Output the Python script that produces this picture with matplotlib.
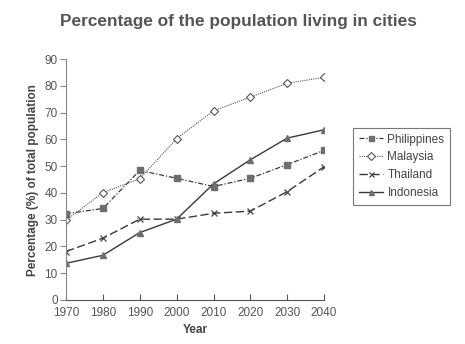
import matplotlib
matplotlib.use('Agg')
import matplotlib.pyplot as plt

plt.rcParams['font.family'] = ['Liberation Sans', 'DejaVu Sans']

years = [1970, 1980, 1990, 2000, 2010, 2020, 2030, 2040]
philippines = [32.2, 34.2, 48.4, 45.5, 42.4, 45.5, 50.6, 55.9]
malaysia = [29.8, 40.1, 45.3, 60.3, 70.7, 75.8, 81.0, 83.2]
thailand = [18.1, 23.1, 30.2, 30.2, 32.4, 33.2, 40.5, 49.8]
indonesia = [13.7, 16.7, 25.2, 30.2, 43.4, 52.4, 60.5, 63.6]

fig = plt.figure(figsize=(4.65, 3.44), dpi=100)
ax = fig.add_axes([0.142, 0.128, 0.555, 0.7])

line_col = '#3a3a3a'
mark_col = '#6e6e6e'
ax.plot(years, philippines, color=line_col, lw=0.9, ls=(0, (4, 1.5, 1, 1.5)),
        marker='s', ms=4.5, mfc=mark_col, mec=mark_col, label='Philippines')
ax.plot(years, malaysia, color='#555555', lw=0.8, ls=(0, (1, 1)),
        marker='D', ms=4.5, mfc='white', mec='#555555', mew=0.8, label='Malaysia')
ax.plot(years, thailand, color=line_col, lw=1.0, ls=(0, (6, 2.5)),
        marker='x', ms=4.5, mec='#444444', mew=0.9, label='Thailand')
ax.plot(years, indonesia, color=line_col, lw=1.0, ls='-',
        marker='^', ms=4.5, mfc=mark_col, mec=mark_col, label='Indonesia')

ax.set_xlim(1970, 2040)
ax.set_ylim(0, 90)
ax.set_xticks(years)
ax.set_yticks(range(0, 91, 10))
for s in ['top', 'right']:
    ax.spines[s].set_visible(False)
ax.spines['left'].set_color('#888888')
ax.spines['bottom'].set_color('#555555')
ax.tick_params(axis='y', direction='out', length=4, colors='#888888',
               labelcolor='#555555', labelsize=8.5, pad=2)
ax.tick_params(axis='x', direction='in', length=4, colors='#555555',
               labelcolor='#555555', labelsize=8.5, pad=5)
ax.set_xlabel('Year', fontsize=8.5, fontweight='bold', color='#444444', labelpad=4)
ax.set_ylabel('Percentage (%) of total population', fontsize=8.5,
              fontweight='bold', color='#444444', labelpad=4)

fig.suptitle('Percentage of the population living in cities', x=0.512, y=0.96,
             fontsize=12.4, fontweight='bold', color='#555555')

leg = ax.legend(loc='upper left', bbox_to_anchor=(1.09, 0.74), fontsize=8.5,
                handlelength=2.0, handletextpad=0.4, labelspacing=0.5,
                borderpad=0.5, frameon=True, fancybox=False, markerscale=0.8)
leg.get_frame().set_edgecolor('#555555')
leg.get_frame().set_linewidth(0.8)
for t in leg.get_texts():
    t.set_color('#444444')

plt.savefig('out.png', dpi=100)
